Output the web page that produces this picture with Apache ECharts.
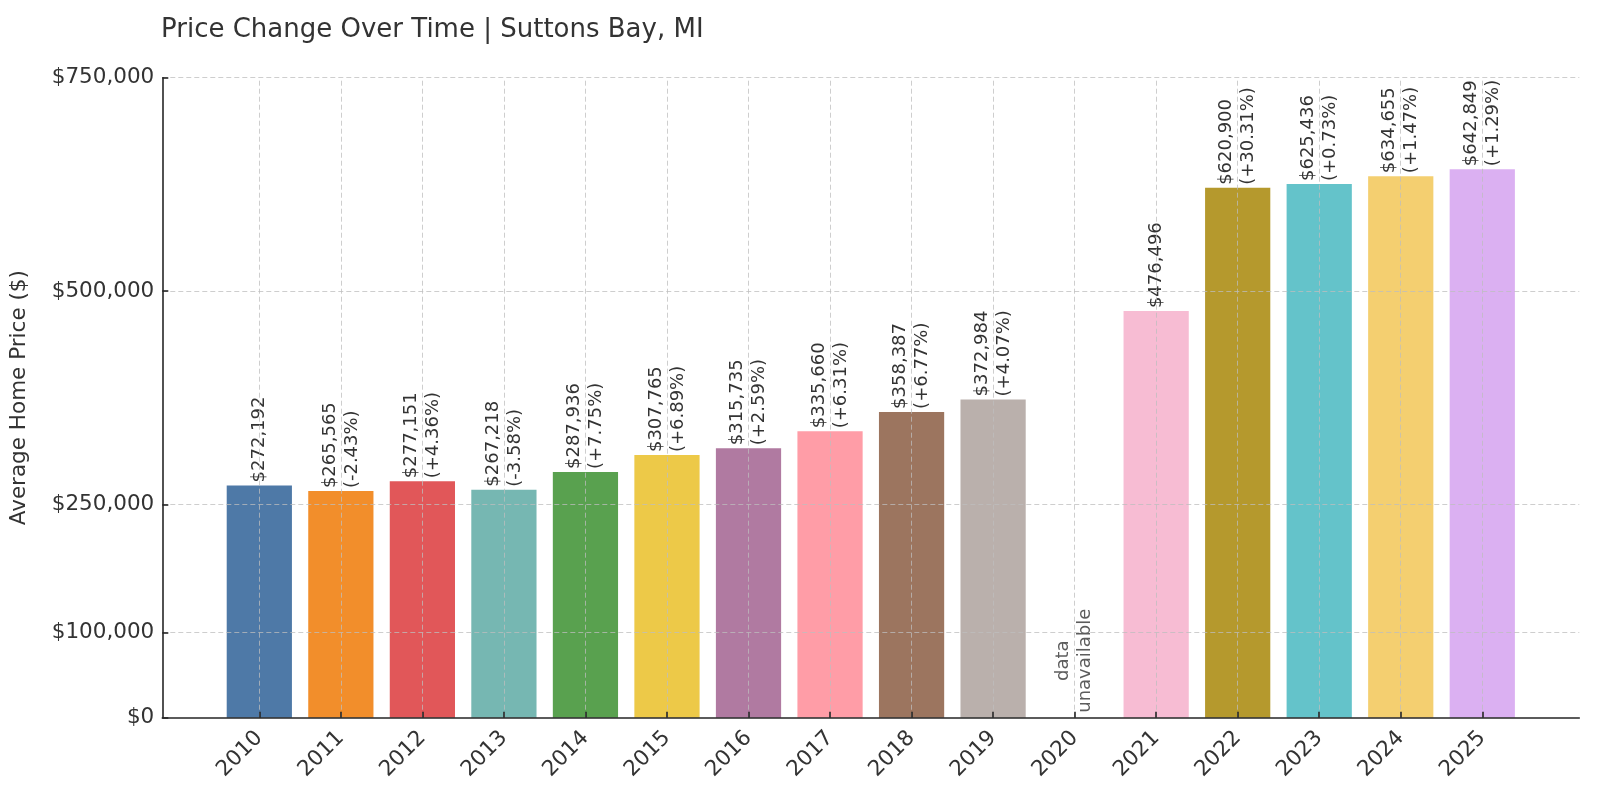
<!DOCTYPE html>
<html>
<head>
<meta charset="utf-8">
<script src="https://cdn.jsdelivr.net/npm/echarts@6/dist/echarts.min.js"></script>
<style>
  html, body { margin: 0; padding: 0; background: #fff; }
  #chart { width: 1600px; height: 800px; }
</style>
</head>
<body>
<div id="chart"></div>
<script>
// ---- data ----
const titleText = 'Price Change Over Time | Suttons Bay, MI';
const yAxisName = 'Average Home Price ($)';
const years = ['2010','2011','2012','2013','2014','2015','2016','2017','2018','2019','2020','2021','2022','2023','2024','2025'];
const prices = [272192, 265565, 277151, 267218, 287936, 307765, 315735, 335660, 358387, 372984, null, 476496, 620900, 625436, 634655, 642849];
const changes = ['', '(-2.43%)', '(+4.36%)', '(-3.58%)', '(+7.75%)', '(+6.89%)', '(+2.59%)', '(+6.31%)', '(+6.77%)', '(+4.07%)', '', '', '(+30.31%)', '(+0.73%)', '(+1.47%)', '(+1.29%)'];
const barColors = ['#4e79a7','#f28e2b','#e15759','#76b7b2','#59a14f','#edc948','#b07aa1','#ff9da7','#9c755f','#bab0ac','#cccccc','#f7bcd3','#b5992d','#64c3ca','#f4cf70','#dbb0f2'];
const yTicks = [0, 100000, 250000, 500000, 750000];
const missingYear = '2020';
const missingText = 'data\nunavailable';

// ---- chart ----
const FONT = 'DejaVu Sans';
const TXT = '#333333';
const idx = years.map((_, i) => i);
const missingIdx = years.indexOf(missingYear);
const fmtMoney = v => '$' + Number(v).toLocaleString('en-US');

const barData = [];
years.forEach((y, i) => {
  if (prices[i] != null) {
    barData.push({ value: [i, prices[i]], itemStyle: { color: barColors[i] } });
  }
});

const gridLineStyle = { color: 'rgba(190,190,190,0.75)', width: 1, type: [5, 3] };
const markLineData = []
  .concat(yTicks.filter(v => v > 0).map(v => ({ yAxis: v })))
  .concat(idx.map(i => ({ xAxis: i })));

const chart = echarts.init(document.getElementById('chart'), null, { renderer: 'canvas' });
chart.setOption({
  animation: false,
  backgroundColor: '#ffffff',
  textStyle: { fontFamily: FONT },
  title: {
    text: titleText,
    left: 161,
    top: 17,
    padding: 0,
    textStyle: { fontFamily: FONT, fontSize: 26, fontWeight: 'normal', color: TXT }
  },
  grid: { left: 162.3, right: 20.7, top: 77.7, bottom: 82.3, containLabel: false },
  xAxis: {
    type: 'value',
    min: -1.19,
    max: 16.19,
    z: 10,
    axisLine: { show: true, onZero: false, lineStyle: { color: '#262626', width: 1.6 } },
    axisTick: { show: true, inside: true, length: 6, customValues: idx, lineStyle: { color: '#262626', width: 1.6 } },
    axisLabel: {
      show: true,
      customValues: idx,
      rotate: 45,
      margin: 17,
      fontFamily: FONT,
      fontSize: 21.5,
      color: TXT,
      formatter: v => years[Math.round(v)] || ''
    },
    splitLine: { show: false }
  },
  yAxis: {
    type: 'value',
    min: 0,
    max: 750000,
    z: 10,
    name: yAxisName,
    nameLocation: 'middle',
    nameGap: 132,
    nameTextStyle: { fontFamily: FONT, fontSize: 21.5, color: TXT },
    axisLine: { show: true, onZero: false, lineStyle: { color: '#262626', width: 1.6 } },
    axisTick: { show: true, inside: true, length: 6, customValues: yTicks, lineStyle: { color: '#262626', width: 1.6 } },
    axisLabel: {
      show: true,
      customValues: yTicks,
      margin: 8,
      fontFamily: FONT,
      fontSize: 21.5,
      color: TXT,
      formatter: v => fmtMoney(v)
    },
    splitLine: { show: false }
  },
  series: [
    {
      type: 'bar',
      barWidth: '80%',
      data: barData,
      label: {
        show: true,
        position: 'top',
        distance: 3,
        rotate: 90,
        align: 'left',
        verticalAlign: 'middle',
        fontFamily: FONT,
        fontSize: 18,
        lineHeight: 22,
        color: TXT,
        formatter: p => {
          const i = p.value[0];
          return fmtMoney(prices[i]) + (changes[i] ? '\n' + changes[i] : '');
        }
      },
      markLine: {
        silent: true,
        symbol: ['none', 'none'],
        label: { show: false },
        lineStyle: gridLineStyle,
        emphasis: { disabled: true },
        data: markLineData
      }
    },
    {
      type: 'scatter',
      symbol: 'circle',
      symbolSize: 0.01,
      itemStyle: { color: 'rgba(0,0,0,0)' },
      silent: true,
      z: 6,
      data: [[missingIdx, 0]],
      label: {
        show: true,
        position: 'top',
        distance: 57,
        rotate: 90,
        align: 'center',
        verticalAlign: 'middle',
        fontFamily: FONT,
        fontSize: 18,
        lineHeight: 22,
        color: TXT,
        formatter: () => missingText
      }
    }
  ]
});
</script>
</body>
</html>
